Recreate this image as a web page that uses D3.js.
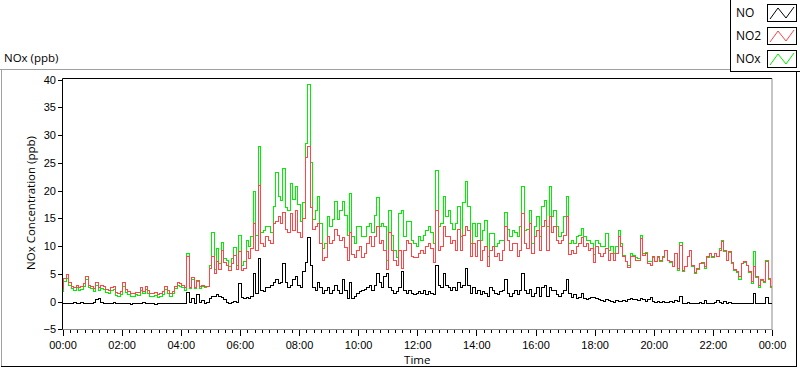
<!DOCTYPE html>
<html>
<head>
<meta charset="utf-8">
<script src="https://cdn.jsdelivr.net/npm/d3@7"></script>
<style>
  body { margin: 0; background: #fff; }
  svg { display: block; font-family: "Open Sans", sans-serif; }
  .axis text { font-size: 11px; fill: #000; }
  .axis line { stroke: #000; }
  .axis path { display: none; }
</style>
</head>
<body>
<svg id="chart"></svg>
<script>
// 5-minute samples, 00:00 to 24:00 (one row per hour)
const no2Values = [
  2.4, 4.2, 4.9, 3.4, 2.8, 2.6, 3.0, 2.5, 2.7, 3.2, 4.6, 3.0,
  2.8, 2.3, 3.4, 2.6, 2.9, 2.7, 2.2, 2.0, 2.5, 2.7, 1.6, 1.5,
  1.8, 3.4, 2.2, 1.8, 1.4, 1.5, 1.7, 1.6, 2.5, 1.9, 2.7, 2.0,
  1.5, 1.4, 1.6, 1.3, 1.5, 1.8, 2.7, 2.0, 1.5, 1.9, 2.8, 3.4,
  3.2, 3.0, 2.6, 8.1, 2.6, 4.4, 2.6, 3.9, 2.7, 3.0, 2.7, 2.8,
  6.0, 8.2, 5.0, 7.2, 5.8, 9.3, 7.0, 6.5, 5.7, 6.8, 8.3, 5.8,
  9.0, 5.6, 6.0, 9.0, 7.8, 9.5, 14.1, 9.3, 21.0, 10.5, 10.0, 11.7,
  11.0, 10.5, 14.1, 14.5, 15.3, 14.1, 16.0, 13.0, 12.5, 15.8, 12.8, 16.5,
  12.5, 11.5, 15.0, 26.0, 28.0, 17.0, 13.0, 13.5, 14.0, 10.5, 7.5, 8.0,
  11.7, 10.5, 11.0, 13.0, 12.0, 11.0, 11.5, 9.8, 7.5, 12.5, 8.5, 8.0,
  9.3, 9.9, 8.0, 8.7, 10.5, 11.7, 9.9, 11.7, 13.5, 10.5, 11.0, 9.3,
  5.8, 12.5, 9.3, 7.5, 6.5, 9.3, 6.0, 9.3, 11.0, 10.5, 8.1, 8.0,
  8.0, 8.7, 9.3, 8.7, 9.9, 10.5, 9.5, 7.0, 16.5, 9.3, 9.9, 13.5,
  11.7, 11.7, 10.5, 11.0, 9.3, 13.0, 9.3, 12.0, 13.5, 12.9, 8.1, 10.5,
  8.1, 11.0, 7.5, 9.3, 9.9, 6.4, 9.3, 9.9, 8.1, 8.7, 7.5, 9.3,
  13.5, 11.0, 9.3, 10.5, 10.5, 8.1, 9.3, 15.9, 10.5, 9.5, 14.1, 8.7,
  11.7, 12.9, 9.3, 13.5, 14.7, 9.3, 15.3, 12.5, 13.5, 11.0, 10.5, 11.0,
  12.0, 15.3, 8.5, 9.3, 8.7, 9.9, 10.5, 11.5, 9.9, 10.5, 9.3, 9.5,
  7.0, 9.9, 8.7, 8.1, 8.7, 9.5, 7.5, 8.7, 7.5, 8.7, 11.7, 9.9,
  8.1, 7.2, 6.2, 8.1, 8.1, 7.5, 7.5, 11.3, 8.4, 8.7, 6.9, 6.5,
  8.1, 7.2, 8.1, 7.5, 8.1, 9.3, 7.5, 7.2, 6.4, 8.7, 6.0, 10.2,
  5.7, 6.4, 8.1, 9.3, 6.5, 5.3, 5.9, 6.9, 7.0, 6.4, 8.1, 8.7,
  8.1, 8.7, 8.1, 9.3, 10.8, 9.3, 7.5, 9.0, 7.0, 5.8, 5.4, 4.6,
  6.9, 7.2, 6.6, 5.5, 3.6, 6.3, 4.5, 2.9, 4.0, 3.6, 7.3, 4.2, 2.8
];

const noxValues = [
  1.9, 3.6, 4.2, 2.9, 2.3, 2.1, 2.5, 2.0, 2.2, 2.7, 4.0, 2.5,
  2.3, 1.8, 2.9, 2.1, 2.4, 2.2, 1.7, 1.5, 2.0, 2.2, 1.1, 1.0,
  1.3, 2.8, 1.7, 1.3, 0.9, 1.0, 1.2, 1.1, 2.0, 1.4, 2.2, 1.5,
  1.0, 0.9, 1.1, 0.8, 1.0, 1.3, 2.2, 1.5, 1.0, 1.4, 2.3, 2.9,
  2.7, 2.5, 2.1, 8.7, 2.3, 4.0, 2.4, 3.7, 2.4, 2.8, 2.6, 2.7,
  6.6, 12.4, 5.8, 9.5, 6.8, 10.6, 7.8, 7.5, 6.3, 7.8, 9.8, 6.5,
  12.0, 6.6, 7.2, 11.1, 10.0, 11.8, 19.8, 12.0, 28.0, 12.5, 12.8, 13.5,
  13.5, 12.5, 17.2, 23.2, 19.0, 18.2, 24.0, 17.0, 16.5, 21.3, 18.5, 20.8,
  17.5, 14.5, 17.8, 28.5, 39.2, 25.0, 14.8, 16.5, 19.0, 14.0, 9.5, 10.5,
  15.3, 13.5, 14.8, 18.0, 14.8, 16.5, 18.0, 15.5, 12.0, 19.5, 11.8, 10.5,
  13.5, 13.5, 11.7, 11.7, 13.5, 14.1, 12.5, 15.5, 18.7, 13.5, 14.0, 13.5,
  7.5, 16.5, 12.0, 9.3, 8.0, 15.9, 16.5, 11.7, 14.5, 14.5, 11.0, 10.5,
  9.9, 11.7, 11.0, 12.0, 12.9, 13.5, 12.5, 10.5, 23.7, 13.5, 14.0, 18.9,
  15.3, 16.5, 14.1, 13.0, 14.1, 17.1, 11.7, 17.8, 21.7, 17.1, 10.5, 14.1,
  11.7, 14.1, 11.0, 12.9, 14.7, 8.1, 12.3, 12.3, 9.9, 10.5, 11.1, 11.1,
  16.0, 13.0, 11.7, 12.9, 12.5, 11.7, 13.5, 20.7, 12.9, 13.0, 16.5, 10.5,
  13.5, 15.3, 11.7, 17.1, 18.3, 13.5, 20.7, 15.3, 16.5, 13.5, 11.7, 12.5,
  15.3, 18.9, 10.5, 11.0, 10.5, 11.7, 12.0, 13.1, 11.7, 11.0, 11.0, 10.5,
  8.5, 11.0, 10.5, 10.0, 10.0, 12.3, 9.3, 10.0, 8.7, 9.9, 12.9, 10.5,
  8.3, 7.2, 6.5, 8.6, 8.4, 7.9, 7.7, 11.9, 8.7, 8.8, 7.3, 7.3,
  8.0, 7.2, 8.0, 7.3, 8.0, 9.3, 7.4, 7.1, 6.3, 8.7, 5.6, 10.6,
  5.5, 6.3, 8.1, 9.3, 6.3, 5.0, 5.8, 6.8, 6.9, 6.0, 8.0, 8.7,
  8.0, 8.7, 8.1, 9.5, 11.0, 9.1, 7.4, 8.9, 6.9, 5.6, 5.2, 4.0,
  6.9, 7.1, 6.5, 5.2, 3.3, 9.0, 4.3, 2.6, 3.8, 3.4, 7.5, 4.0, 2.6
];

const noValues = [
  -0.4, -0.3, -0.4, -0.3, -0.4, -0.2, -0.4, -0.3, -0.1, -0.4, -0.3, -0.4,
  -0.3, -0.2, 0.4, 0.5, -0.2, -0.4, -0.3, -0.4, -0.3, -0.1, -0.4, -0.4,
  -0.4, -0.3, -0.4, -0.4, -0.5, -0.4, -0.4, -0.3, -0.4, -0.2, -0.4, -0.4,
  -0.4, -0.4, -0.5, -0.4, -0.4, -0.4, -0.4, -0.4, -0.4, -0.4, -0.4, -0.3,
  -0.4, -0.4, -0.3, 1.7, -0.2, 0.6, -0.3, 1.2, -0.2, 0.2, -0.3, -0.2,
  0.6, 1.0, 0.9, 1.2, 0.9, 0.8, 0.4, -0.2, -0.3, -0.2, 0.1, -0.2,
  3.3, 0.8, 0.6, 0.7, 0.6, 1.0, 5.1, 1.5, 7.7, 2.0, 1.8, 2.5,
  2.5, 3.0, 3.5, 4.0, 3.2, 3.5, 6.9, 3.5, 2.5, 3.0, 4.0, 4.5,
  3.0, 2.5, 5.5, 7.0, 11.5, 6.5, 2.5, 2.0, 3.5, 2.5, 1.5, 2.0,
  2.5, 1.5, 2.0, 3.0, 2.0, 1.5, 4.0, 2.0, 0.5, 3.5, 0.5, 1.0,
  1.5, 1.8, 2.0, 2.2, 2.5, 3.0, 2.0, 3.0, 5.0, 3.5, 2.5, 4.5,
  5.0, 2.5, 2.0, 1.5, 1.8, 2.5, 5.4, 2.0, 1.5, 2.0, 1.5, 1.2,
  1.5, 1.8, 1.5, 2.0, 1.2, 1.8, 1.5, 1.2, 6.5, 3.0, 2.5, 5.0,
  3.0, 2.5, 2.0, 2.5, 2.0, 3.5, 2.5, 3.0, 6.0, 3.0, 1.5, 2.5,
  1.5, 2.0, 1.2, 1.8, 1.5, 1.0, 2.5, 2.0, 1.5, 1.2, 1.8, 2.0,
  4.0, 1.5, 1.0, 1.5, 2.0, 1.2, 2.0, 5.0, 2.0, 1.5, 2.2, 1.0,
  1.5, 2.5, 1.0, 2.5, 3.0, 1.0, 2.5, 2.0, 2.0, 1.2, 1.0, 1.5,
  2.0, 4.0, 1.5, 0.8, 1.2, 0.5, 0.8, 1.5, 0.5, 0.3, 0.6, 0.8,
  0.8, 0.5, 0.3, 0.2, 0.0, 0.3, 0.2, 0.0, -0.1, 0.2, 0.1, 0.0,
  0.2, 0.0, 0.3, 0.5, 0.3, 0.4, 0.2, 0.6, 0.3, 0.1, 0.4, 0.8,
  0.0, -0.1, 0.1, -0.2, 0.0, -0.1, -0.2, 0.0, -0.1, 0.2, 0.0, 1.0,
  -0.3, -0.3, -0.2, -0.3, -0.4, -0.3, -0.3, -0.2, -0.3, 0.2, -0.3, -0.3,
  -0.3, -0.2, 0.2, -0.2, -0.3, 0.1, -0.3, -0.2, -0.4, -0.3, -0.3, -0.4,
  -0.4, -0.3, -0.4, -0.4, -0.3, 1.5, -0.3, -0.4, -0.3, -0.4, 0.7, -0.3, -0.4
];

const seriesNames = ["NO", "NO2", "NOx"];
const seriesColors = ["#000000", "#ff4545", "#00ee00"];
const yTicks = [-5, 0, 5, 10, 15, 20, 25, 30, 35, 40];
const xTickHours = [0, 2, 4, 6, 8, 10, 12, 14, 16, 18, 20, 22, 24];
const sampleMinutes = 5;

const width = 800, height = 369;
const plotLeft = 62.5, plotRight = 772, plotTop = 78.5, plotBottom = 330;

const svg = d3.select("#chart")
    .attr("width", width)
    .attr("height", height);

const day0 = new Date(2020, 0, 1, 0, 0);
const timeAt = i => d3.timeMinute.offset(day0, i * sampleMinutes);

const x = d3.scaleTime()
    .domain([day0, d3.timeHour.offset(day0, 24)])
    .range([plotLeft, plotRight]);

const y = d3.scaleLinear()
    .domain([-5, 40])
    .range([329.4, 79.7]);

// outer panel border (grey top/left, dark bottom/right)
svg.append("line").attr("x1", 0).attr("x2", 731).attr("y1", 69.5).attr("y2", 69.5).attr("stroke", "#a0a0a0");
svg.append("line").attr("x1", 1.5).attr("x2", 1.5).attr("y1", 69.5).attr("y2", 367).attr("stroke", "#a0a0a0");
svg.append("line").attr("x1", 1).attr("x2", 797).attr("y1", 366.5).attr("y2", 366.5).attr("stroke", "#000");
svg.append("line").attr("x1", 796.5).attr("x2", 796.5).attr("y1", 72).attr("y2", 367).attr("stroke", "#000");

svg.append("text")
    .attr("x", 4).attr("y", 62)
    .style("font-size", "11.5px")
    .text("NOx (ppb)");

// plot frame
svg.append("line").attr("x1", plotLeft).attr("x2", plotRight).attr("y1", plotTop).attr("y2", plotTop).attr("stroke", "#000");
svg.append("line").attr("x1", plotLeft).attr("x2", plotLeft).attr("y1", plotTop).attr("y2", plotBottom).attr("stroke", "#000");
svg.append("line").attr("x1", plotRight).attr("x2", plotRight).attr("y1", plotTop).attr("y2", plotBottom).attr("stroke", "#8c8c8c");
svg.append("line").attr("x1", plotLeft).attr("x2", plotRight).attr("y1", plotBottom - 0.5).attr("y2", plotBottom - 0.5).attr("stroke", "#8c8c8c");

// axes
svg.append("g")
    .attr("class", "axis")
    .attr("transform", `translate(${plotLeft - 0.5},0)`)
    .call(d3.axisLeft(y).tickValues(yTicks).tickSize(4).tickPadding(2).tickFormat(d3.format("d")))
    .selectAll("line").attr("shape-rendering", "crispEdges");

svg.append("g")
    .attr("class", "axis")
    .attr("transform", `translate(0,${plotBottom})`)
    .call(d3.axisBottom(x).ticks(d3.timeMinute.every(15)).tickSize(3).tickFormat(""))
    .selectAll("line").attr("shape-rendering", "crispEdges");

svg.append("g")
    .attr("class", "axis")
    .attr("transform", `translate(0,${plotBottom})`)
    .call(d3.axisBottom(x)
        .tickValues(xTickHours.map(h => d3.timeHour.offset(day0, h)))
        .tickSize(6).tickPadding(5)
        .tickFormat(d3.timeFormat("%H:%M")))
    .selectAll("line").attr("shape-rendering", "crispEdges");

svg.append("text")
    .attr("x", (plotLeft + plotRight) / 2).attr("y", 364)
    .attr("text-anchor", "middle")
    .style("font-size", "11.5px")
    .text("Time");

svg.append("text")
    .attr("transform", "translate(35,203) rotate(-90)")
    .attr("text-anchor", "middle")
    .style("font-size", "11.5px")
    .text("NOx Concentration (ppb)");

// data lines: NOx under NO2 under NO
const line = d3.line()
    .x((d, i) => x(timeAt(i)))
    .y(d => y(d))
    .curve(d3.curveStep);

const plot = svg.append("g");
[[noxValues, seriesColors[2]], [no2Values, seriesColors[1]], [noValues, seriesColors[0]]].forEach(([vals, col]) => {
    plot.append("path")
        .datum(vals)
        .attr("fill", "none")
        .attr("stroke", col)
        .attr("stroke-width", 1)
        .attr("shape-rendering", "crispEdges")
        .attr("d", line);
});

// legend
const lg = svg.append("g");
lg.append("rect").attr("x", 730.5).attr("y", -1).attr("width", 72).attr("height", 72.5)
    .attr("fill", "#fff").attr("stroke", "#000");
seriesNames.forEach((name, i) => {
    const y0 = 4 + i * 23;
    lg.append("text")
        .attr("x", 736).attr("y", y0 + 13)
        .style("font-size", "12px")
        .text(name);
    lg.append("rect")
        .attr("x", 767.5).attr("y", y0 + 0.5)
        .attr("width", 29).attr("height", 17)
        .attr("fill", "#fff").attr("stroke", "#000");
    lg.append("polyline")
        .attr("points", [[770, y0 + 15], [778, y0 + 4], [786, y0 + 14], [794, y0 + 3]].map(p => p.join(",")).join(" "))
        .attr("fill", "none")
        .attr("stroke", seriesColors[i]);
});
</script>
</body>
</html>
